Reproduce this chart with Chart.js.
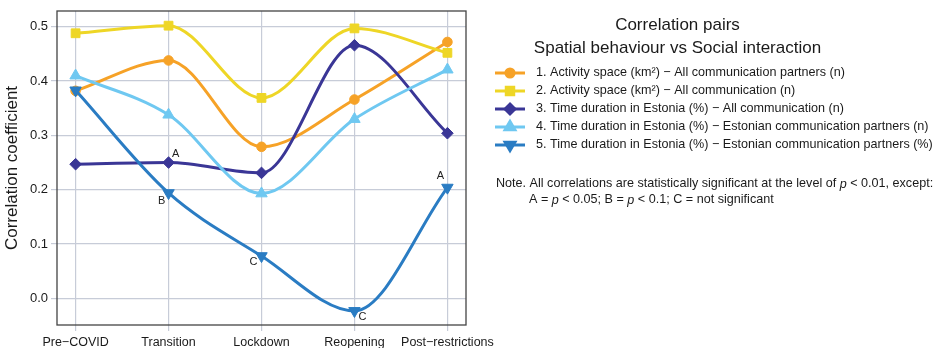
<!DOCTYPE html>
<html>
<head>
<meta charset="utf-8">
<title>Correlation pairs</title>
<script src="https://cdn.jsdelivr.net/npm/chart.js@4.4.1/dist/chart.umd.min.js"></script>
<style>
  html, body { margin: 0; padding: 0; background: #fff; }
  #wrap { width: 941px; height: 348px; }
</style>
</head>
<body>
<div id="wrap"><canvas id="corrChart" width="941" height="348"></canvas></div>
<script>
// Phases on the x axis
const phases = ['Pre\u2212COVID', 'Transition', 'Lockdown', 'Reopening', 'Post\u2212restrictions'];

// Correlation pairs (legend entries)
const pairLabels = [
    '1. Activity space (km\u00B2) \u2212 All communication partners (n)',
    '2. Activity space (km\u00B2) \u2212 All communication (n)',
    '3. Time duration in Estonia (%) \u2212 All communication (n)',
    '4. Time duration in Estonia (%) \u2212 Estonian communication partners (n)',
    '5. Time duration in Estonia (%) \u2212 Estonian communication partners (%)'
];

// Correlation coefficients per phase
const activityPartners = [0.382, 0.438, 0.279, 0.366, 0.472];
const activityComm = [0.488, 0.502, 0.369, 0.497, 0.452];
const timeComm = [0.247, 0.250, 0.231, 0.466, 0.304];
const timeEstPartnersN = [0.410, 0.338, 0.193, 0.330, 0.421];
const timeEstPartnersPct = [0.383, 0.194, 0.078, -0.023, 0.204];

// Significance letters (empty = p < 0.01)
const sigTimeComm = ['', 'A', '', '', ''];
const sigTimeEstPct = ['', 'B', 'C', 'C', 'A'];

const pairColors = ['#f6a227', '#eed626', '#3a3696', '#6fc8f1', '#2a7cc3'];
const FONT = '"Liberation Sans", Arial, sans-serif';

function toPoints(values) {
    return values.map((v, i) => ({ x: i, y: v }));
}

const seriesValues = [activityPartners, activityComm, timeComm, timeEstPartnersN, timeEstPartnersPct];
const seriesSig = [null, null, sigTimeComm, null, sigTimeEstPct];
const markerStyle = [
    { pointStyle: 'circle', radius: 4.8, rotation: 0 },
    { pointStyle: 'rect', radius: 6.2, rotation: 0 },
    { pointStyle: 'rectRot', radius: 5.8, rotation: 0 },
    { pointStyle: 'triangle', radius: 6.6, rotation: 0 },
    { pointStyle: 'triangle', radius: 6.6, rotation: 180 }
];

const datasets = seriesValues.map((vals, i) => ({
    label: pairLabels[i],
    data: toPoints(vals),
    borderColor: pairColors[i],
    backgroundColor: pairColors[i],
    borderWidth: 3,
    cubicInterpolationMode: 'monotone',
    pointStyle: markerStyle[i].pointStyle,
    pointRadius: markerStyle[i].radius,
    pointRotation: markerStyle[i].rotation,
    pointBorderWidth: 1,
    order: 4 - i
}));

// where each significance letter sits relative to its point
const sigOffsets = {
    2: [null, [7, -9], null, null, null],
    4: [null, [-7, 8], [-8, 6], [8, 6], [-7, -12]]
};

const sigLetters = {
    id: 'sigLetters',
    afterDatasetsDraw(chart) {
        const ctx = chart.ctx;
        ctx.save();
        ctx.font = '11px ' + FONT;
        ctx.fillStyle = '#222';
        ctx.textAlign = 'center';
        ctx.textBaseline = 'middle';
        seriesSig.forEach((sig, di) => {
            if (!sig) return;
            const meta = chart.getDatasetMeta(di);
            sig.forEach((letter, i) => {
                if (!letter) return;
                const pt = meta.data[i];
                const off = sigOffsets[di][i];
                ctx.fillText(letter, pt.x + off[0], pt.y + off[1]);
            });
        });
        ctx.restore();
    }
};

// box around the plotting area
const plotBox = {
    id: 'plotBox',
    beforeDatasetsDraw(chart) {
        const a = chart.chartArea;
        const ctx = chart.ctx;
        ctx.save();
        ctx.strokeStyle = '#444';
        ctx.lineWidth = 1.3;
        ctx.strokeRect(a.left, a.top, a.right - a.left, a.bottom - a.top);
        ctx.restore();
    }
};

// legend block and note on the right
const sideLegend = {
    id: 'sideLegend',
    afterDraw(chart) {
        const ctx = chart.ctx;
        ctx.save();
        ctx.fillStyle = '#1a1a1a';
        ctx.textBaseline = 'middle';
        ctx.font = '17px ' + FONT;
        ctx.textAlign = 'center';
        ctx.fillText('Correlation pairs', 677.5, 25);
        ctx.fillText('Spatial behaviour vs Social interaction', 677.5, 48);
        ctx.textAlign = 'left';

        ctx.font = '12.6px ' + FONT;
        chart.data.datasets.forEach((ds, i) => {
            const y = 73 + i * 18;
            ctx.strokeStyle = ds.borderColor;
            ctx.lineWidth = 3;
            ctx.beginPath();
            ctx.moveTo(495, y);
            ctx.lineTo(525, y);
            ctx.stroke();
            ctx.fillStyle = ds.backgroundColor;
            Chart.helpers.drawPoint(ctx, {
                pointStyle: ds.pointStyle,
                radius: ds.pointRadius * 0.85,
                rotation: ds.pointRotation,
                borderWidth: 1
            }, 510, y);
            ctx.fillStyle = '#1a1a1a';
            ctx.fillText(ds.label, 536, y);
        });

        const noteLines = [
            { x: 496, y: 184, parts: [['Note. All correlations are statistically significant at the level of ', false], ['p', true], [' < 0.01, except:', false]] },
            { x: 529, y: 200, parts: [['A = ', false], ['p', true], [' < 0.05; B = ', false], ['p', true], [' < 0.1; C = not significant', false]] }
        ];
        noteLines.forEach(line => {
            let x = line.x;
            line.parts.forEach(([txt, italic]) => {
                ctx.font = (italic ? 'italic ' : '') + '12.6px ' + FONT;
                ctx.fillText(txt, x, line.y);
                x += ctx.measureText(txt).width;
            });
        });
        ctx.restore();
    }
};

const gridColor = '#c7ccd8';

new Chart(document.getElementById('corrChart'), {
    type: 'line',
    data: { datasets: datasets },
    options: {
        responsive: false,
        devicePixelRatio: 1,
        animation: false,
        layout: { padding: { top: 11, right: 475, left: 0, bottom: 0 } },
        plugins: {
            legend: { display: false },
            tooltip: { enabled: false }
        },
        scales: {
            x: {
                type: 'linear',
                min: -0.2,
                max: 4.2,
                border: { display: false },
                grid: { color: gridColor, lineWidth: 1.2, tickLength: 6, tickColor: gridColor },
                ticks: {
                    stepSize: 1,
                    includeBounds: false,
                    autoSkip: false,
                    maxRotation: 0,
                    padding: 4,
                    color: '#1a1a1a',
                    font: { family: FONT, size: 12.5 },
                    callback: v => phases[v] ?? ''
                },
                afterFit: scale => { scale.height = 23; }
            },
            y: {
                min: -0.049,
                max: 0.529,
                border: { display: false },
                grid: { color: gridColor, lineWidth: 1.2, tickLength: 6, tickColor: gridColor },
                ticks: {
                    stepSize: 0.1,
                    includeBounds: false,
                    padding: 3,
                    color: '#1a1a1a',
                    font: { family: FONT, size: 13 },
                    callback: v => v.toFixed(1)
                },
                title: {
                    display: true,
                    text: 'Correlation coefficient',
                    color: '#1a1a1a',
                    font: { family: FONT, size: 17 },
                    padding: { top: 2, bottom: 0 }
                },
                afterFit: scale => { scale.width = 57; }
            }
        }
    },
    plugins: [plotBox, sigLetters, sideLegend]
});
</script>
</body>
</html>
